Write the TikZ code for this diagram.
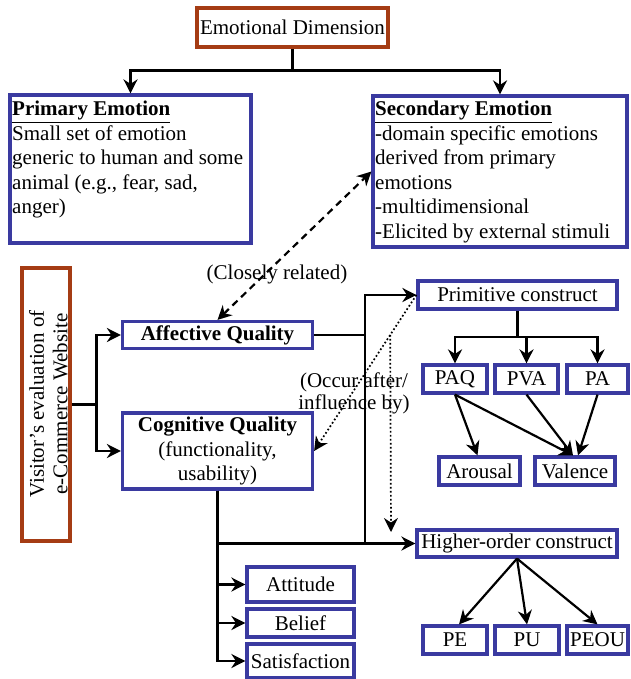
\documentclass[tikz,border=0pt]{standalone}
\usepackage{fontspec}
\setmainfont{Liberation Serif}
\usetikzlibrary{arrows.meta,calc}
\definecolor{boxblue}{RGB}{58,58,160}
\definecolor{boxbrown}{RGB}{165,60,20}
\begin{document}
\begin{tikzpicture}[x=1pt,y=-1pt,
  every node/.style={font=\fontsize{21}{24.5}\selectfont, inner sep=0pt},
  bluebox/.style={draw=boxblue, line width=3.2pt},
  brownbox/.style={draw=boxbrown, line width=3.2pt},
  tip/.style={-{Stealth[length=14pt,width=14pt,inset=4.5pt]}},
  conn/.style={line width=2.2pt},
  arr/.style={conn, tip},
  dashedlink/.style={line width=2.2pt, dash pattern=on 7pt off 5pt,
    {Stealth[length=14pt,width=14pt,inset=4.5pt]}-{Stealth[length=14pt,width=14pt,inset=4.5pt]}},
  dottedlink/.style={line width=1.7pt, dash pattern=on 1.7pt off 2.3pt, tip}]

% canvas
\fill[white] (0,0) rectangle (630,679);
\useasboundingbox (0,0) rectangle (630,679);

% emotional dimension branch
\node[brownbox, minimum width=191pt, minimum height=39pt] (emo) at (292.5,27.5) {Emotional Dimension};
\node[bluebox, minimum width=241pt, minimum height=148pt] (prim) at (130.5,169) {};
\node[anchor=north west, align=left] (primtext) at (12,101)
  {\underline{\textbf{Primary Emotion}}\\Small set of emotion\\generic to human and some\\animal (e.g., fear, sad,\\anger)};
\node[bluebox, minimum width=254pt, minimum height=151pt] (sec) at (500,171.5) {};
\node[anchor=north west, align=left] (sectext) at (375,101)
  {\underline{\textbf{Secondary Emotion}}\\-domain specific emotions\\derived from primary\\emotions\\-multidimensional\\-Elicited by external stimuli};

% visitor evaluation
\node[brownbox, minimum width=48pt, minimum height=273pt] (vis) at (46,404.5) {};
\node[rotate=90, align=center, font=\fontsize{21}{23.5}\selectfont] (vistext) at (48.5,404)
  {Visitor’s evaluation of\\e-Commerce Website};

\node[bluebox, minimum width=190pt, minimum height=27pt] (aff) at (217.5,335) {\textbf{Affective Quality}};
\node[bluebox, minimum width=190pt, minimum height=76pt, align=center] (cog) at (217.5,451)
  {\textbf{Cognitive Quality}\\(functionality,\\usability)};

% constructs
\node[bluebox, minimum width=199pt, minimum height=28pt] (prm) at (517.5,295) {Primitive construct};
\node[bluebox, minimum width=64pt, minimum height=28pt] (paq) at (455,379) {PAQ};
\node[bluebox, minimum width=63pt, minimum height=28pt] (pva) at (526.5,379) {PVA};
\node[bluebox, minimum width=61pt, minimum height=28pt] (pa) at (597.5,379) {PA};
\node[bluebox, minimum width=81pt, minimum height=28pt] (aro) at (479.5,471) {Arousal};
\node[bluebox, minimum width=80pt, minimum height=28pt] (val) at (575,471) {Valence};

\node[bluebox, minimum width=200pt, minimum height=27pt] (hoc) at (517,543.5) {Higher-order construct};
\node[bluebox, minimum width=64pt, minimum height=28pt] (pe) at (455,640) {PE};
\node[bluebox, minimum width=64pt, minimum height=28pt] (pu) at (527,640) {PU};
\node[bluebox, minimum width=61pt, minimum height=28pt] (peou) at (597.5,640) {PEOU};

% outcomes
\node[bluebox, minimum width=107pt, minimum height=35pt] (att) at (300.5,584.5) {Attitude};
\node[bluebox, minimum width=107pt, minimum height=28pt] (bel) at (300.5,623) {Belief};
\node[bluebox, minimum width=107pt, minimum height=34pt] (sat) at (300.5,661) {Satisfaction};

% relation labels
\node (closely) at (277,274) {(Closely related)};
\node[align=center, font=\fontsize{21}{22}\selectfont] (occur) at (354,393) {(Occur after/\\influence by)};

% junction points
\coordinate (emoj) at (292.5,70.5);
\coordinate (visj) at (96.5,404.5);
\coordinate (busTop) at (365,295);
\coordinate (busBot) at (365,543.5);
\coordinate (prmj) at (517.5,337);
\coordinate (dotStart) at ($(prm.west)!0.256!(cog.east)$);
\coordinate (dotEnd) at (391,532);

% tree connectors
\draw[arr] (emo.south) -- (emoj) -| (prim.north);
\draw[arr] (emoj) -| (sec.north);
\draw[arr] (vis.east) -- (visj) |- (aff.west);
\draw[arr] (visj) |- (cog.west);
\draw[conn] (aff.east) -- (aff.east -| busTop);
\draw[arr] (busBot) -- (busTop) -- (prm.west);
\draw[arr] (cog.south) |- (hoc.west);
\draw[arr] (cog.south) |- (att.west);
\draw[arr] (cog.south) |- (bel.west);
\draw[arr] (cog.south) |- (sat.west);

\draw[arr] (prm.south) -- (prmj) -| (paq.north);
\draw[arr] (prmj) -| (pva.north);
\draw[arr] (prmj) -| (pa.north);
\draw[arr] (paq.south) -- ([xshift=-2pt]aro.north);
\draw[arr] (paq.south) -- ([xshift=-2pt]val.north);
\draw[arr] (pva.south) -- ([xshift=-2pt]val.north);
\draw[arr] (pa.south) -- ([xshift=3pt]val.north);

\draw[arr] (hoc.south) -- ([xshift=4pt]pe.north);
\draw[arr] (hoc.south) -- (pu.north);
\draw[arr] (hoc.south) -- (peou.north);

% relations
\draw[dashedlink] (aff.north) -- (sec.west);
\draw[dottedlink] (prm.west) -- (cog.east);
\draw[dottedlink] (dotStart) -- (dotEnd);
\end{tikzpicture}
\end{document}
